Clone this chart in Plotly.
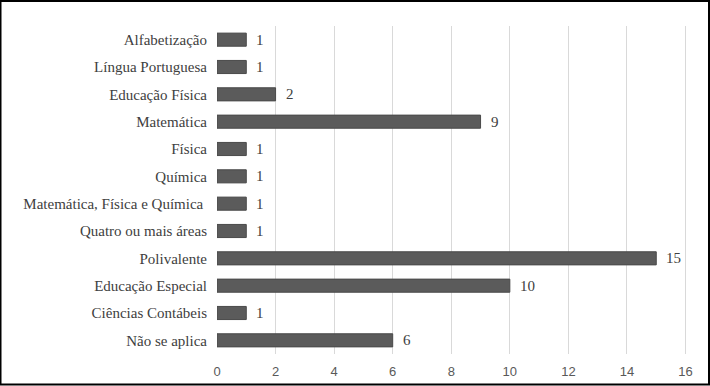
import plotly.graph_objects as go

categories = ["Alfabetização", "Língua Portuguesa", "Educação Física", "Matemática",
              "Física", "Química", "Matemática, Física e Química ", "Quatro ou mais áreas",
              "Polivalente", "Educação Especial", "Ciências Contábeis", "Não se aplica"]
values = [1, 1, 2, 9, 1, 1, 1, 1, 15, 10, 1, 6]
tick_vals = [0, 2, 4, 6, 8, 10, 12, 14, 16]

W, H = 710, 386
ml, mr, mt, mb = 217, 23, 26, 32

fig = go.Figure()
fig.add_trace(go.Bar(
    x=values, y=categories, orientation="h",
    marker=dict(color="#5b5b5b", line=dict(color="#4a4a4a", width=1)),
    width=0.48, hoverinfo="skip",
))
for c, v in zip(categories, values):
    fig.add_annotation(x=v, y=c, text=str(v), showarrow=False, xanchor="left",
                       xshift=8, font=dict(family="Liberation Serif", size=15, color="#404040"))

pw = W - ml - mr
ph = H - mt - mb
fig.add_shape(type="rect", xref="paper", yref="paper",
              x0=(0.5 - ml) / pw, x1=(W - 1 - ml) / pw,
              y0=-(H - 1.5 - mt - ph) / ph, y1=1 + (mt - 1) / ph,
              line=dict(color="#000000", width=2), layer="above")

fig.update_layout(
    width=W, height=H, margin=dict(l=ml, r=mr, t=mt, b=mb, autoexpand=False),
    paper_bgcolor="white", plot_bgcolor="white", showlegend=False,
    xaxis=dict(range=[0, 16.05], tickvals=tick_vals, showgrid=True, gridcolor="#d9d9d9",
               gridwidth=1, zeroline=False, showline=False, ticks="",
               ticklabelstandoff=8, automargin=False,
               tickfont=dict(family="Liberation Sans", size=13, color="#595959")),
    yaxis=dict(autorange="reversed", showgrid=False, showline=False, ticks="",
               ticklabelstandoff=9, automargin=False,
               tickfont=dict(family="Liberation Serif", size=15, color="#404040")),
)
fig.write_html("out.html")
